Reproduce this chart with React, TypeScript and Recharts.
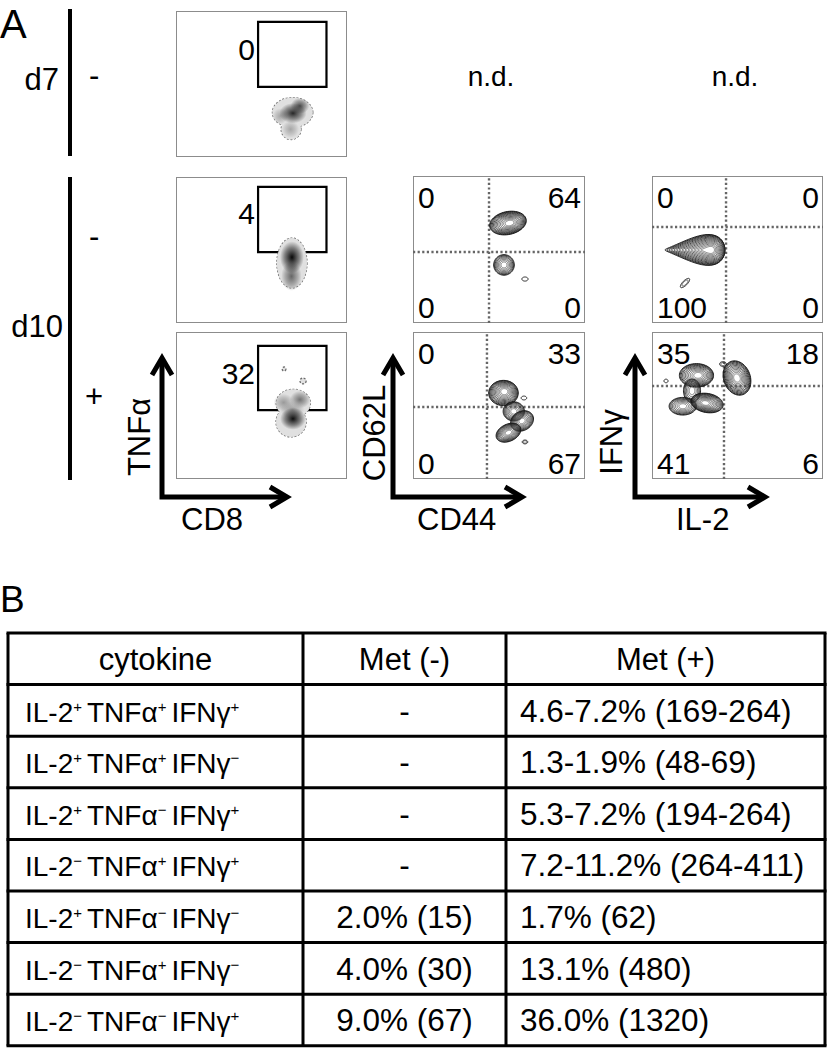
import React from 'react';
import { ScatterChart, Scatter, XAxis, YAxis, ReferenceArea, ReferenceLine } from 'recharts';

const FONT = '"Liberation Sans", Arial, Helvetica, sans-serif';

// ---------------- Panel A data ----------------
const dayLabels = ['d7', 'd10'];
const metSigns = ['-', '-', '+'];
const notDone = 'n.d.';
const gatePercents = [0, 4, 32]; // % in TNFα+ gate (CD8 vs TNFα)
const cd44Quadrants = [
  [0, 64, 0, 0], // TL, TR, BL, BR
  [0, 33, 0, 67],
];
const il2Quadrants = [
  [0, 0, 100, 0],
  [35, 18, 41, 6],
];
const xAxisNames = ['CD8', 'CD44', 'IL-2'];
const yAxisNames = ['TNFα', 'CD62L', 'IFNγ'];

// gate rectangles (data units 0-100)
const gateX = [48, 88];
const gateY = [
  [48, 92.5],
  [48.6, 93.2],
  [46.9, 90.5],
];
// quadrant cut positions [x, y]
const cd44Cuts = [
  [44.2, 48.3],
  [43.0, 49.0],
];
const il2Cuts = [
  [43.3, 65.3],
  [42.1, 63.3],
];

type Blob = {
  x: number; y: number; rx: number; ry: number;
  rot?: number; k?: number; a?: number; px?: number; py?: number; n?: number;
};

// density plot populations (CD8 vs TNFα)
const d7Outline: Blob[] = [
  { x: 68.2, y: 30.5, rx: 11.8, ry: 10.2 },
  { x: 67.3, y: 19, rx: 5.8, ry: 7 },
];
const d7Core: Blob[] = [
  { x: 61, y: 28, rx: 4.5, ry: 5.5, k: 0.35 },
  { x: 67, y: 19, rx: 5, ry: 6, k: 0.35 },
  { x: 72.5, y: 35, rx: 5.5, ry: 5.5, k: 0.7 },
  { x: 68.4, y: 30, rx: 8, ry: 7, k: 0.85 },
];
const d10nOutline: Blob[] = [{ x: 67.8, y: 41.1, rx: 8.8, ry: 17.1 }];
const d10nCore: Blob[] = [
  { x: 67.5, y: 32, rx: 6, ry: 10, k: 0.6 },
  { x: 67.8, y: 45, rx: 7, ry: 11, k: 0.97 },
];
const d10pOutline: Blob[] = [
  { x: 68.6, y: 51.5, rx: 10, ry: 9.5 },
  { x: 67.3, y: 38.8, rx: 8.8, ry: 10.2 },
];
const d10pCore: Blob[] = [
  { x: 63, y: 52, rx: 6, ry: 6, k: 0.4 },
  { x: 72.5, y: 54, rx: 6, ry: 6, k: 0.55 },
  { x: 68, y: 47, rx: 7, ry: 6, k: 0.4 },
  { x: 68.4, y: 41, rx: 7.5, ry: 7.5, k: 0.95 },
];
const d10pDots: Blob[] = [
  { x: 63.2, y: 74.8, rx: 1.1, ry: 1.4 },
  { x: 74.3, y: 66.7, rx: 1.8, ry: 2 },
];

// contour plot populations
const cd44NegContours: Blob[] = [
  { x: 55.2, y: 68.0, rx: 10.8, ry: 7.8, rot: -12, n: 13, px: 1 },
  { x: 52.9, y: 39.5, rx: 6, ry: 7, n: 8 },
  { x: 65.1, y: 29.9, rx: 1.8, ry: 1.4, n: 1 },
];
const cd44PosContours: Blob[] = [
  { x: 52.6, y: 58.5, rx: 8.6, ry: 8.6, n: 12, px: 0.5, py: 1 },
  { x: 58.6, y: 46, rx: 6.2, ry: 6.5, n: 8 },
  { x: 63.4, y: 39.5, rx: 7, ry: 6.5, rot: -30, n: 9 },
  { x: 55.5, y: 31.5, rx: 7.6, ry: 5.8, rot: -25, n: 10 },
  { x: 64.5, y: 55.1, rx: 1.6, ry: 1.3, n: 1 },
  { x: 65.1, y: 25.2, rx: 1.6, ry: 1.3, n: 2 },
];
const il2NegContours: Blob[] = [
  { x: 25.1, y: 49.7, rx: 17.5, ry: 8.8, a: 0.75, n: 14, px: 8 },
  { x: 19.3, y: 27.2, rx: 3.6, ry: 1.6, rot: -45, n: 2 },
];
const il2PosContours: Blob[] = [
  { x: 26, y: 70.5, rx: 10, ry: 8, n: 11, px: 1 },
  { x: 23.4, y: 60, rx: 5, ry: 8, n: 6 },
  { x: 18, y: 49.5, rx: 8, ry: 6, n: 8 },
  { x: 32.2, y: 51.7, rx: 9.5, ry: 6.5, rot: 10, n: 12, px: -1 },
  { x: 49.7, y: 68.7, rx: 7.8, ry: 12, rot: -20, n: 12 },
  { x: 41.5, y: 78.2, rx: 2, ry: 1.6, n: 2 },
  { x: 8.2, y: 66.7, rx: 1.2, ry: 1.2, n: 1 },
];

// ---------------- Panel B data ----------------
const tableHeader = ['cytokine', 'Met (-)', 'Met (+)'];
const il2Sign = ['+', '+', '+', '−', '+', '−', '−'];
const tnfSign = ['+', '+', '−', '+', '−', '+', '−'];
const ifnSign = ['+', '−', '+', '+', '−', '−', '+'];
const metNeg = ['-', '-', '-', '-', '2.0% (15)', '4.0% (30)', '9.0% (67)'];
const metPos = [
  '4.6-7.2% (169-264)',
  '1.3-1.9% (48-69)',
  '5.3-7.2% (194-264)',
  '7.2-11.2% (264-411)',
  '1.7% (62)',
  '13.1% (480)',
  '36.0% (1320)',
];

// ---------------- shapes ----------------
function ringPath(cx: number, cy: number, rx: number, ry: number, rot: number, a: number) {
  const N = 56;
  const r = (rot * Math.PI) / 180;
  const pts: string[] = [];
  for (let i = 0; i < N; i++) {
    const t = (i / N) * 2 * Math.PI;
    const ex = rx * Math.cos(t);
    const ey = ry * Math.sin(t) * (1 + a * Math.cos(t));
    const X = cx + ex * Math.cos(r) - ey * Math.sin(r);
    const Y = cy + ex * Math.sin(r) + ey * Math.cos(r);
    pts.push(`${X.toFixed(2)},${Y.toFixed(2)}`);
  }
  return 'M' + pts.join('L') + 'Z';
}

const makeContour = (sx: number, sy: number) => (props: any) => {
  const { cx, cy, payload } = props;
  const b: Blob = payload;
  const n = b.n ?? 6;
  const rings: any[] = [];
  for (let i = 0; i < n; i++) {
    const f = n === 1 ? 0 : i / n;
    const s = 1 - 0.85 * Math.pow(f, 1.3);
    const ox = (b.px ?? 0) * sx * f;
    const oy = -(b.py ?? 0) * sy * f;
    const g = Math.round(15 + 110 * f);
    rings.push(
      <path
        key={i}
        d={ringPath(cx + ox, cy + oy, b.rx * sx * s, b.ry * sy * s, b.rot ?? 0, b.a ?? 0)}
        fill="none"
        stroke={`rgb(${g},${g},${g})`}
        strokeWidth={0.9}
      />
    );
  }
  return <g>{rings}</g>;
};

const makeOutline = (sx: number, sy: number, withStroke: boolean) => (props: any) => {
  const { cx, cy, payload } = props;
  const b: Blob = payload;
  return (
    <ellipse
      cx={cx}
      cy={cy}
      rx={b.rx * sx}
      ry={b.ry * sy}
      fill="#e0e0e0"
      stroke={withStroke ? '#6a6a6a' : 'none'}
      strokeWidth={withStroke ? 1.3 : 0}
      strokeDasharray="2 1.6"
    />
  );
};

const makeCore = (sx: number, sy: number, pid: string) => (props: any) => {
  const { cx, cy, payload } = props;
  const b: Blob = payload;
  const id = `${pid}-c-${b.x}-${b.y}`.replace(/\./g, '_');
  const c = Math.round(255 * (1 - (b.k ?? 0.5)));
  const col = `rgb(${c},${c},${c})`;
  return (
    <g>
      <defs>
        <radialGradient id={id} cx="50%" cy="50%" r="50%">
          <stop offset="0%" stopColor={col} stopOpacity={1} />
          <stop offset="60%" stopColor={col} stopOpacity={0.45} />
          <stop offset="100%" stopColor={col} stopOpacity={0} />
        </radialGradient>
      </defs>
      <ellipse cx={cx} cy={cy} rx={b.rx * sx} ry={b.ry * sy} fill={`url(#${id})`} />
    </g>
  );
};

type PlotProps = {
  id: string;
  left: number; top: number; w: number; h: number;
  outline?: Blob[]; cores?: Blob[]; dots?: Blob[]; contours?: Blob[];
  gate?: number[]; cuts?: number[];
};

function FlowPlot(p: PlotProps) {
  const sx = p.w / 100;
  const sy = p.h / 100;
  return (
    <div
      style={{
        position: 'absolute', left: p.left, top: p.top, width: p.w, height: p.h,
        border: '1px solid #8c8c8c', boxSizing: 'border-box',
      }}
    >
      <div style={{ position: 'absolute', left: -1, top: -1 }}>
        <ScatterChart width={p.w} height={p.h} margin={{ top: 0, right: 0, bottom: 0, left: 0 }}>
          <XAxis type="number" dataKey="x" domain={[0, 100]} hide allowDataOverflow />
          <YAxis type="number" dataKey="y" domain={[0, 100]} hide allowDataOverflow />
          {p.cuts && (
            <ReferenceLine x={p.cuts[0]} stroke="#666" strokeWidth={2.4} strokeDasharray="2.2 2.4" />
          )}
          {p.cuts && (
            <ReferenceLine y={p.cuts[1]} stroke="#666" strokeWidth={2.4} strokeDasharray="2.2 2.4" />
          )}
          {p.outline && (
            <Scatter data={p.outline} shape={makeOutline(sx, sy, true)} isAnimationActive={false} />
          )}
          {p.outline && (
            <Scatter data={p.outline} shape={makeOutline(sx, sy, false)} isAnimationActive={false} />
          )}
          {p.cores && (
            <Scatter data={p.cores} shape={makeCore(sx, sy, p.id)} isAnimationActive={false} />
          )}
          {p.dots && (
            <Scatter data={p.dots} shape={makeOutline(sx, sy, true)} isAnimationActive={false} />
          )}
          {p.contours && (
            <Scatter data={p.contours} shape={makeContour(sx, sy)} isAnimationActive={false} />
          )}
          {p.gate && (
            <ReferenceArea
              x1={gateX[0]} x2={gateX[1]} y1={p.gate[0]} y2={p.gate[1]}
              fill="none" fillOpacity={0} stroke="#000" strokeWidth={2.2}
            />
          )}
        </ScatterChart>
      </div>
    </div>
  );
}

// plot boxes (layout)
const cd8Boxes = [
  { left: 176, top: 11, w: 171, h: 146 },
  { left: 176, top: 177, w: 171, h: 146 },
  { left: 176, top: 332, w: 171, h: 147 },
];
const cd44Boxes = [
  { left: 413, top: 176, w: 172, h: 147 },
  { left: 413, top: 332, w: 172, h: 147 },
];
const il2Boxes = [
  { left: 652, top: 176, w: 171, h: 147 },
  { left: 652, top: 332, w: 171, h: 147 },
];

function QuadLabels({ box, vals }: { box: any; vals: number[] }) {
  const fs = 30;
  const l = box.left + 5;
  const r = box.left + box.w - 4;
  const t = box.top + 32;
  const b = box.top + box.h - 5;
  return (
    <g fontSize={fs}>
      <text x={l} y={t}>{vals[0]}</text>
      <text x={r} y={t} textAnchor="end">{vals[1]}</text>
      <text x={l} y={b}>{vals[2]}</text>
      <text x={r} y={b} textAnchor="end">{vals[3]}</text>
    </g>
  );
}

function AxisArrow({ x0, y0, top, right, xName, yName, xLabelX, yLabelX, yLabelMid }: any) {
  return (
    <g>
      <path d={`M${x0},${top} V${y0} H${right}`} fill="none" stroke="#000" strokeWidth={5} strokeLinejoin="miter" />
      <path d={`M${x0 - 10},${top + 17} L${x0},${top} L${x0 + 10},${top + 17}`} fill="none" stroke="#000" strokeWidth={5} />
      <path d={`M${right - 17},${y0 - 10} L${right},${y0} L${right - 17},${y0 + 10}`} fill="none" stroke="#000" strokeWidth={5} />
      <text x={xLabelX} y={530} fontSize={31}>{xName}</text>
      <text x={yLabelX} y={yLabelMid} fontSize={31} textAnchor="middle" transform={`rotate(-90 ${yLabelX} ${yLabelMid})`}>
        {yName}
      </text>
    </g>
  );
}

const rowTop = 633;
const rowH = 51.6;
const colX = [8, 303, 506, 825];

export default function App() {
  return (
    <div style={{ position: 'absolute', left: 0, top: 0, width: 829, height: 1049, background: '#fff', fontFamily: FONT }}>
      <FlowPlot id="p1" {...cd8Boxes[0]} outline={d7Outline} cores={d7Core} gate={gateY[0]} />
      <FlowPlot id="p2" {...cd8Boxes[1]} outline={d10nOutline} cores={d10nCore} gate={gateY[1]} />
      <FlowPlot id="p3" {...cd8Boxes[2]} outline={d10pOutline} cores={d10pCore} dots={d10pDots} gate={gateY[2]} />
      <FlowPlot id="p4" {...cd44Boxes[0]} contours={cd44NegContours} cuts={cd44Cuts[0]} />
      <FlowPlot id="p5" {...cd44Boxes[1]} contours={cd44PosContours} cuts={cd44Cuts[1]} />
      <FlowPlot id="p6" {...il2Boxes[0]} contours={il2NegContours} cuts={il2Cuts[0]} />
      <FlowPlot id="p7" {...il2Boxes[1]} contours={il2PosContours} cuts={il2Cuts[1]} />

      <svg
        width={829}
        height={1049}
        style={{ position: 'absolute', left: 0, top: 0, pointerEvents: 'none', fontFamily: FONT }}
      >
        {/* Panel A labels */}
        <text x={0} y={38} fontSize={40}>A</text>
        <rect x={68} y={9} width={4} height={147} fill="#000" />
        <rect x={68} y={177} width={4} height={303} fill="#000" />
        <text x={59} y={90} fontSize={31} textAnchor="end">{dayLabels[0]}</text>
        <text x={63} y={337} fontSize={31} textAnchor="end">{dayLabels[1]}</text>
        <text x={89} y={86} fontSize={31}>{metSigns[0]}</text>
        <text x={89} y={247} fontSize={31}>{metSigns[1]}</text>
        <text x={85} y={407} fontSize={31}>{metSigns[2]}</text>
        <text x={491} y={86} fontSize={28} textAnchor="middle">{notDone}</text>
        <text x={735} y={86} fontSize={28} textAnchor="middle">{notDone}</text>

        {cd8Boxes.map((b, i) => (
          <text key={i} x={255} y={[60, 224, 384][i]} fontSize={30} textAnchor="end">{gatePercents[i]}</text>
        ))}
        {cd44Boxes.map((b, i) => <QuadLabels key={'c' + i} box={b} vals={cd44Quadrants[i]} />)}
        {il2Boxes.map((b, i) => <QuadLabels key={'i' + i} box={b} vals={il2Quadrants[i]} />)}

        <AxisArrow x0={162} y0={497} top={358} right={287} xName={xAxisNames[0]} yName={yAxisNames[0]} xLabelX={181} yLabelX={150} yLabelMid={437} />
        <AxisArrow x0={393} y0={497} top={358} right={522} xName={xAxisNames[1]} yName={yAxisNames[1]} xLabelX={417} yLabelX={385} yLabelMid={433} />
        <AxisArrow x0={635} y0={497} top={358} right={765} xName={xAxisNames[2]} yName={yAxisNames[2]} xLabelX={676} yLabelX={622} yLabelMid={442} />

        {/* Panel B */}
        <text x={0} y={612} fontSize={37}>B</text>
        {Array.from({ length: 9 }).map((_, i) => (
          <line key={'h' + i} x1={colX[0] - 1.5} x2={colX[3] + 1.5} y1={rowTop + i * rowH} y2={rowTop + i * rowH} stroke="#000" strokeWidth={3} />
        ))}
        {colX.map((x, i) => (
          <line key={'v' + i} x1={x} x2={x} y1={rowTop} y2={rowTop + 8 * rowH} stroke="#000" strokeWidth={3} />
        ))}
        <text x={(colX[0] + colX[1]) / 2} y={rowTop + 37} fontSize={31} textAnchor="middle">{tableHeader[0]}</text>
        <text x={(colX[1] + colX[2]) / 2} y={rowTop + 37} fontSize={31} textAnchor="middle">{tableHeader[1]}</text>
        <text x={(colX[2] + colX[3]) / 2} y={rowTop + 37} fontSize={31} textAnchor="middle">{tableHeader[2]}</text>
        {metPos.map((v, i) => {
          const base = rowTop + (i + 1) * rowH + 37;
          return (
            <g key={'r' + i}>
              <text x={25} y={base} fontSize={28}>
                IL-2<tspan fontSize={15} dy={-10}>{il2Sign[i]}</tspan>
                <tspan dy={10} dx={5}>TNFα</tspan>
                <tspan fontSize={15} dy={-10}>{tnfSign[i]}</tspan>
                <tspan dy={10} dx={5}>IFNγ</tspan>
                <tspan fontSize={15} dy={-10}>{ifnSign[i]}</tspan>
              </text>
              <text x={(colX[1] + colX[2]) / 2} y={base} fontSize={31.5} textAnchor="middle">{metNeg[i]}</text>
              <text x={520} y={base} fontSize={31.5}>{v}</text>
            </g>
          );
        })}
      </svg>
    </div>
  );
}
